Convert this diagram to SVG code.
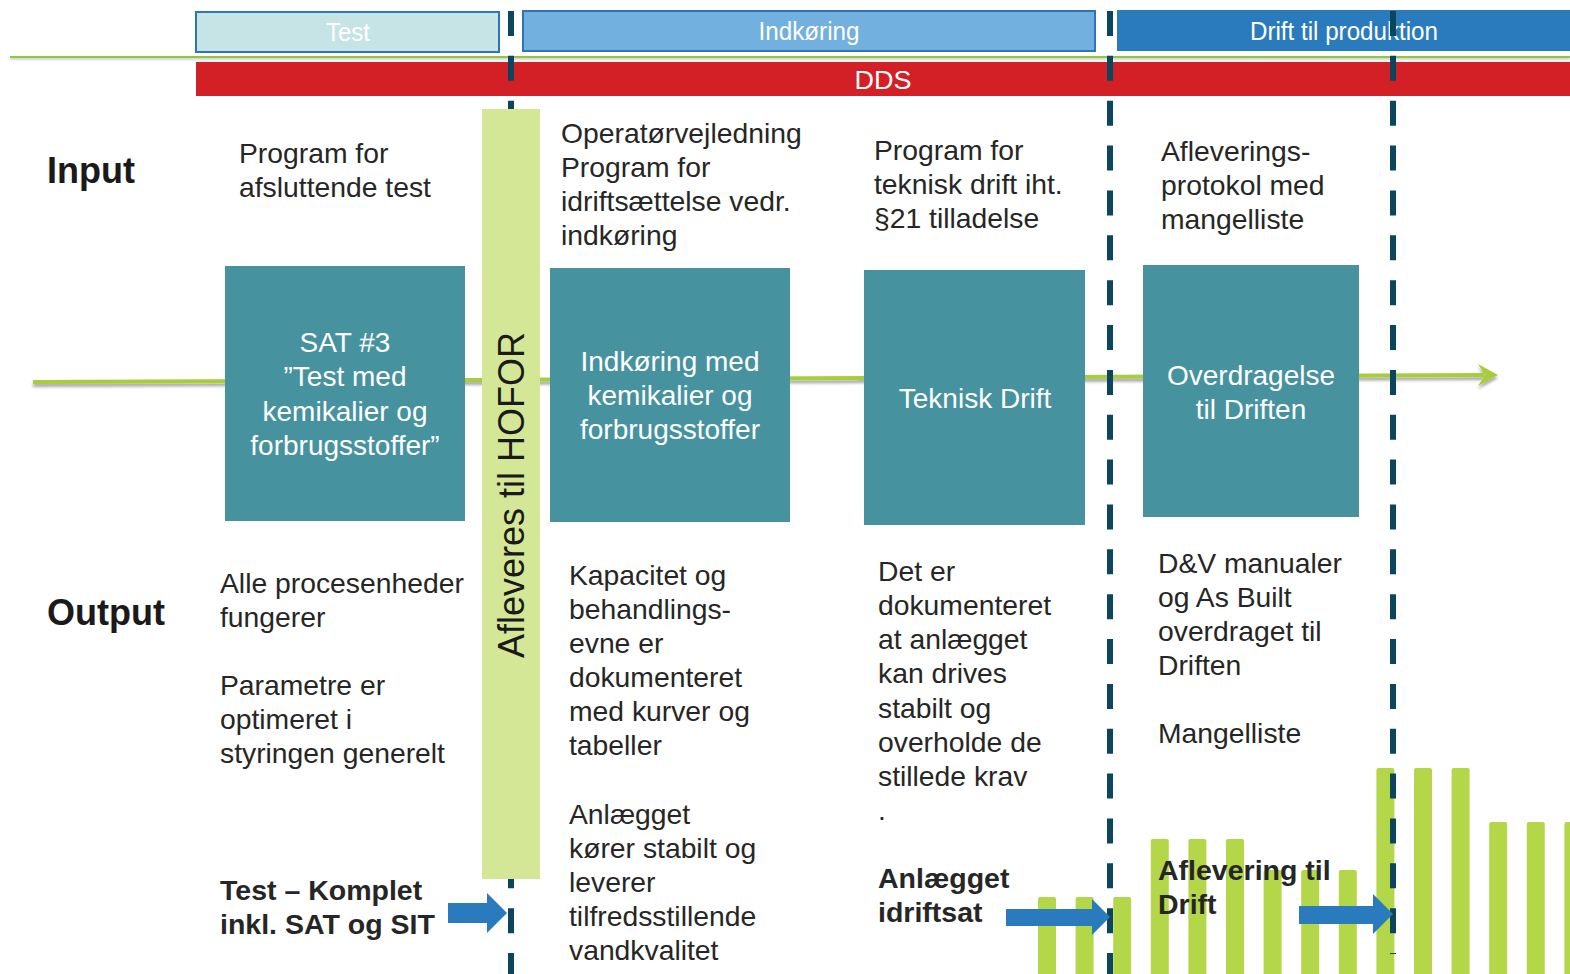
<svg xmlns="http://www.w3.org/2000/svg" width="1570" height="974" viewBox="0 0 1570 974">
<defs>
<style>
.t{font-family:"Liberation Sans",Arial,sans-serif;font-size:28.3px;fill:#262626}
.b{font-family:"Liberation Sans",Arial,sans-serif;font-size:28.5px;font-weight:bold;fill:#262626}
.h{font-family:"Liberation Sans",Arial,sans-serif;font-size:36px;font-weight:bold;fill:#1a1a1a}
.w{font-family:"Liberation Sans",Arial,sans-serif;font-size:28px;fill:#ffffff;text-anchor:middle}
.p{font-family:"Liberation Sans",Arial,sans-serif;font-size:25px;fill:#ffffff;text-anchor:middle}
.box{fill:#46929f}
.bar{fill:#b4d74a}
.dash{stroke:#0b465e;stroke-width:6;stroke-dasharray:25 19.86;fill:none}
.arr{fill:#2a7bbd}
</style>
<filter id="sh" filterUnits="userSpaceOnUse" x="0" y="0" width="1570" height="974">
<feDropShadow dx="0" dy="3" stdDeviation="1.5" flood-color="#000" flood-opacity="0.35"/>
</filter>
<filter id="sh2" filterUnits="userSpaceOnUse" x="0" y="0" width="1570" height="974">
<feDropShadow dx="0" dy="1.5" stdDeviation="1" flood-color="#000" flood-opacity="0.25"/>
</filter>
</defs>
<rect width="1570" height="974" fill="#ffffff"/>

<g id="topline">
<rect x="10" y="56" width="1560" height="2" fill="#95c43c" filter="url(#sh2)"/>
</g>

<g id="phase-test">
<rect x="196" y="12" width="303" height="40" fill="#c6e3e6" stroke="#2e75b6" stroke-width="2"/>
<text class="p" x="348" y="41" textLength="44" lengthAdjust="spacingAndGlyphs">Test</text>
</g>
<g id="phase-indkoering">
<rect x="523" y="11" width="572" height="40" fill="#72b0e0" stroke="#2e75b6" stroke-width="2"/>
<text class="p" x="809" y="40" textLength="101" lengthAdjust="spacingAndGlyphs">Indkøring</text>
</g>
<g id="phase-drift">
<rect x="1117" y="10" width="455" height="41" fill="#2a7bbd"/>
<text class="p" x="1344" y="40" textLength="188" lengthAdjust="spacingAndGlyphs">Drift til produktion</text>
</g>
<g id="dds">
<rect x="196" y="62" width="1374" height="34" fill="#d32027"/>
<text class="p" x="883" y="89" font-size="26" textLength="57" lengthAdjust="spacingAndGlyphs">DDS</text>
</g>

<g id="connectors">
<g filter="url(#sh)">
<line x1="33" y1="382" x2="1484" y2="375" stroke="#a6ce3a" stroke-width="4"/>
<path d="M1498,375 L1478,364 L1485,375 L1478,386 Z" fill="#a6ce3a"/>
</g>
</g>

<g id="labels">
<text class="h" x="47" y="183">Input</text>
<text class="h" x="47" y="625">Output</text>
</g>

<g id="box-sat">
<rect class="box" x="225" y="266" width="240" height="255"/>
<text class="w"><tspan x="345" y="352">SAT #3</tspan><tspan x="345" y="386">”Test med</tspan><tspan x="345" y="421">kemikalier og</tspan><tspan x="345" y="455">forbrugsstoffer”</tspan></text>
</g>
<g id="box-indkoering">
<rect class="box" x="550" y="268" width="240" height="254"/>
<text class="w"><tspan x="670" y="371">Indkøring med</tspan><tspan x="670" y="405">kemikalier og</tspan><tspan x="670" y="439">forbrugsstoffer</tspan></text>
</g>
<g id="box-teknisk">
<rect class="box" x="864" y="270" width="221" height="255"/>
<text class="w" x="975" y="408">Teknisk Drift</text>
</g>
<g id="box-overdragelse">
<rect class="box" x="1143" y="265" width="216" height="252"/>
<text class="w"><tspan x="1251" y="385">Overdragelse</tspan><tspan x="1251" y="419">til Driften</tspan></text>
</g>

<g id="input-test">
<text class="t"><tspan x="239" y="163">Program for</tspan><tspan x="239" y="197">afsluttende test</tspan></text>
</g>
<g id="input-indkoering">
<text class="t"><tspan x="561" y="143">Operatørvejledning</tspan><tspan x="561" y="177">Program for</tspan><tspan x="561" y="211">idriftsættelse vedr.</tspan><tspan x="561" y="245">indkøring</tspan></text>
</g>
<g id="input-teknisk">
<text class="t"><tspan x="874" y="160">Program for</tspan><tspan x="874" y="194">teknisk drift iht.</tspan><tspan x="874" y="228">§21 tilladelse</tspan></text>
</g>
<g id="input-overdragelse">
<text class="t"><tspan x="1161" y="161">Afleverings-</tspan><tspan x="1161" y="195">protokol med</tspan><tspan x="1161" y="229">mangelliste</tspan></text>
</g>

<g id="output-test">
<text class="t"><tspan x="220" y="593">Alle procesenheder</tspan><tspan x="220" y="627">fungerer</tspan><tspan x="220" y="695">Parametre er</tspan><tspan x="220" y="729">optimeret i</tspan><tspan x="220" y="763">styringen generelt</tspan></text>
</g>
<g id="output-indkoering">
<text class="t"><tspan x="569" y="585">Kapacitet og</tspan><tspan x="569" y="619">behandlings-</tspan><tspan x="569" y="653">evne er</tspan><tspan x="569" y="687">dokumenteret</tspan><tspan x="569" y="721">med kurver og</tspan><tspan x="569" y="755">tabeller</tspan><tspan x="569" y="824">Anlægget</tspan><tspan x="569" y="858">kører stabilt og</tspan><tspan x="569" y="892">leverer</tspan><tspan x="569" y="926">tilfredsstillende</tspan><tspan x="569" y="960">vandkvalitet</tspan></text>
</g>
<g id="output-teknisk">
<text class="t"><tspan x="878" y="581">Det er</tspan><tspan x="878" y="615">dokumenteret</tspan><tspan x="878" y="649">at anlægget</tspan><tspan x="878" y="683">kan drives</tspan><tspan x="878" y="718">stabilt og</tspan><tspan x="878" y="752">overholde de</tspan><tspan x="878" y="786">stillede krav</tspan><tspan x="878" y="820">.</tspan></text>
</g>
<g id="output-overdragelse">
<text class="t"><tspan x="1158" y="573">D&amp;V manualer</tspan><tspan x="1158" y="607">og As Built</tspan><tspan x="1158" y="641">overdraget til</tspan><tspan x="1158" y="675">Driften</tspan><tspan x="1158" y="743">Mangelliste</tspan></text>
</g>

<g id="chart">
<rect class="bar" x="1038" y="897" width="18" height="90" rx="2"/>
<rect class="bar" x="1075.6" y="897" width="18" height="90" rx="2"/>
<rect class="bar" x="1113.2" y="897" width="18" height="90" rx="2"/>
<rect class="bar" x="1150.8" y="839" width="18" height="150" rx="2"/>
<rect class="bar" x="1188.4" y="839" width="18" height="150" rx="2"/>
<rect class="bar" x="1226" y="839" width="18" height="150" rx="2"/>
<rect class="bar" x="1263.6" y="870" width="18" height="120" rx="2"/>
<rect class="bar" x="1301.2" y="870" width="18" height="120" rx="2"/>
<rect class="bar" x="1338.8" y="870" width="18" height="120" rx="2"/>
<rect class="bar" x="1376.4" y="768" width="18" height="220" rx="2"/>
<rect class="bar" x="1414" y="768" width="18" height="220" rx="2"/>
<rect class="bar" x="1451.6" y="768" width="18" height="220" rx="2"/>
<rect class="bar" x="1489.2" y="822" width="18" height="170" rx="2"/>
<rect class="bar" x="1526.8" y="822" width="18" height="170" rx="2"/>
<rect class="bar" x="1564.4" y="822" width="18" height="170" rx="2"/>
</g>

<g id="phase-dividers">
<line class="dash" x1="511" y1="11" x2="511" y2="974"/>
<line class="dash" x1="1110" y1="11" x2="1110" y2="974"/>
<line class="dash" x1="1393" y1="11" x2="1393" y2="954"/>
</g>

<g id="hofor">
<rect x="482" y="109" width="58" height="770" fill="#d4e797"/>
<text transform="translate(524,495) rotate(-90)" x="0" y="0" text-anchor="middle" style="font-family:'Liberation Sans',Arial,sans-serif;font-size:36px;fill:#1a1a1a">Afleveres til HOFOR</text>
</g>

<g id="milestone-test">
<text class="b"><tspan x="220" y="900">Test – Komplet</tspan><tspan x="220" y="934">inkl. SAT og SIT</tspan></text>
<path class="arr" d="M448,903 H487 V893 L507,913 L487,933 V923 H448 Z"/>
</g>
<g id="milestone-idriftsat">
<text class="b"><tspan x="878" y="888">Anlægget</tspan><tspan x="878" y="922">idriftsat</tspan></text>
<path class="arr" d="M1006,909 H1092 V899 L1110,917 L1092,935 V926 H1006 Z"/>
</g>
<g id="milestone-aflevering">
<text class="b"><tspan x="1158" y="880">Aflevering til</tspan><tspan x="1158" y="914">Drift</tspan></text>
<path class="arr" d="M1299,906 H1373 V894 L1393,914 L1373,934 V924 H1299 Z"/>
</g>
</svg>
